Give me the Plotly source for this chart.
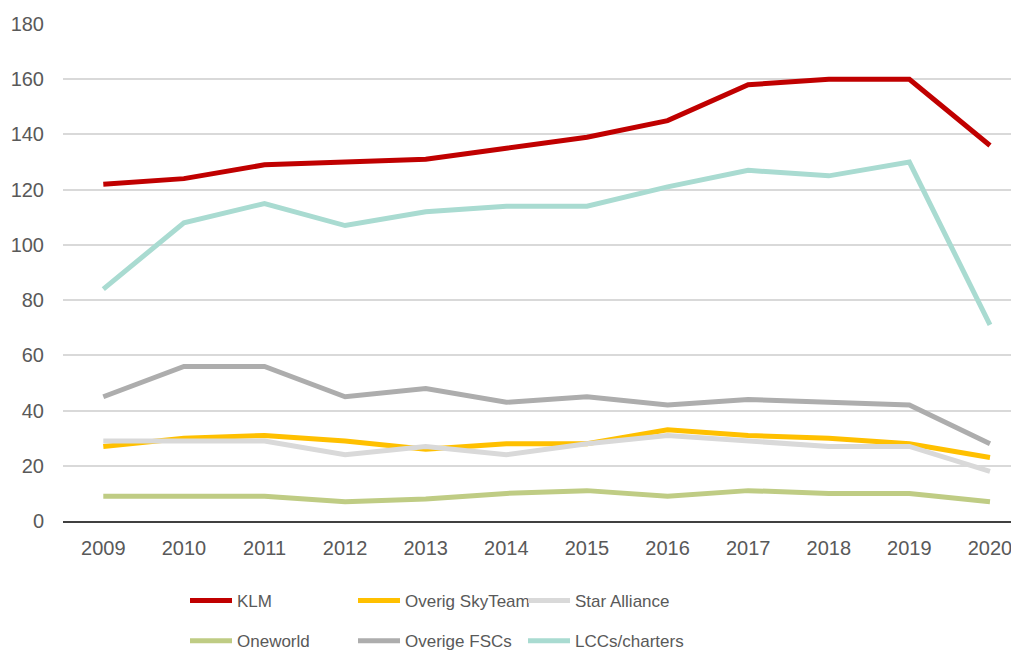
import plotly.graph_objects as go

years = ["2009", "2010", "2011", "2012", "2013", "2014", "2015", "2016", "2017", "2018", "2019", "2020"]
klm = [122, 124, 129, 130, 131, 135, 139, 145, 158, 160, 160, 136]
skyteam = [27, 30, 31, 29, 26, 28, 28, 33, 31, 30, 28, 23]
star = [29, 29, 29, 24, 27, 24, 28, 31, 29, 27, 27, 18]
oneworld = [9, 9, 9, 7, 8, 10, 11, 9, 11, 10, 10, 7]
fscs = [45, 56, 56, 45, 48, 43, 45, 42, 44, 43, 42, 28]
lccs = [84, 108, 115, 107, 112, 114, 114, 121, 127, 125, 130, 71]

# drawing order (Excel series order): later = on top
series = [
    ("KLM", klm, "#C00000", "legend", 1),
    ("Overig SkyTeam", skyteam, "#FFC000", "legend2", 1),
    ("Star Alliance", star, "#D9D9D9", "legend3", 1),
    ("Oneworld", oneworld, "#BFCC84", "legend", 2),
    ("Overige FSCs", fscs, "#ADADAD", "legend2", 2),
    ("LCCs/charters", lccs, "#A9DBD1", "legend3", 2),
]

fig = go.Figure()
for n, vals, col, lg, rk in series:
    fig.add_trace(go.Scatter(
        x=years, y=vals, name=n, mode="lines",
        line=dict(color=col, width=5),
        legend=lg, legendgroup=n, legendrank=rk,
    ))

font = dict(family="Liberation Sans, Arial, sans-serif", size=20, color="#595959")
lfont = dict(family="Liberation Sans, Arial, sans-serif", size=17, color="#595959")
leg_common = dict(orientation="v", font=lfont,
                  yanchor="top", xanchor="left", tracegroupgap=15,
                  bgcolor="rgba(0,0,0,0)", itemwidth=42)

# page has an 8px body margin; compensate
L, T, W, H = 55, 16, 1011, 645
plot_h = 513 - T
plot_w = W - L
ytop = (513 - 575) / plot_h
fig.update_layout(
    width=W, height=H,
    margin=dict(l=L, r=0, t=T, b=H - 513, autoexpand=False),
    paper_bgcolor="white", plot_bgcolor="white",
    font=font,
    showlegend=True,
    legend=dict(x=(177 - L) / plot_w, y=ytop, **leg_common),
    legend2=dict(x=(345 - L) / plot_w, y=ytop, **leg_common),
    legend3=dict(x=(515 - L) / plot_w, y=ytop, **leg_common),
    xaxis=dict(
        type="category", range=[-0.5, 11.36],
        showgrid=False, showline=True, linecolor="#404040", linewidth=2,
        ticks="outside", ticklen=8, tickcolor="rgba(0,0,0,0)", tickfont=font,
    ),
    yaxis=dict(
        range=[0, 180], dtick=20, showgrid=True, gridcolor="#D9D9D9", gridwidth=1.5,
        zeroline=False, showline=False,
        ticks="outside", ticklen=14, tickcolor="rgba(0,0,0,0)", tickfont=font,
    ),
)

fig.write_html("out.html")
